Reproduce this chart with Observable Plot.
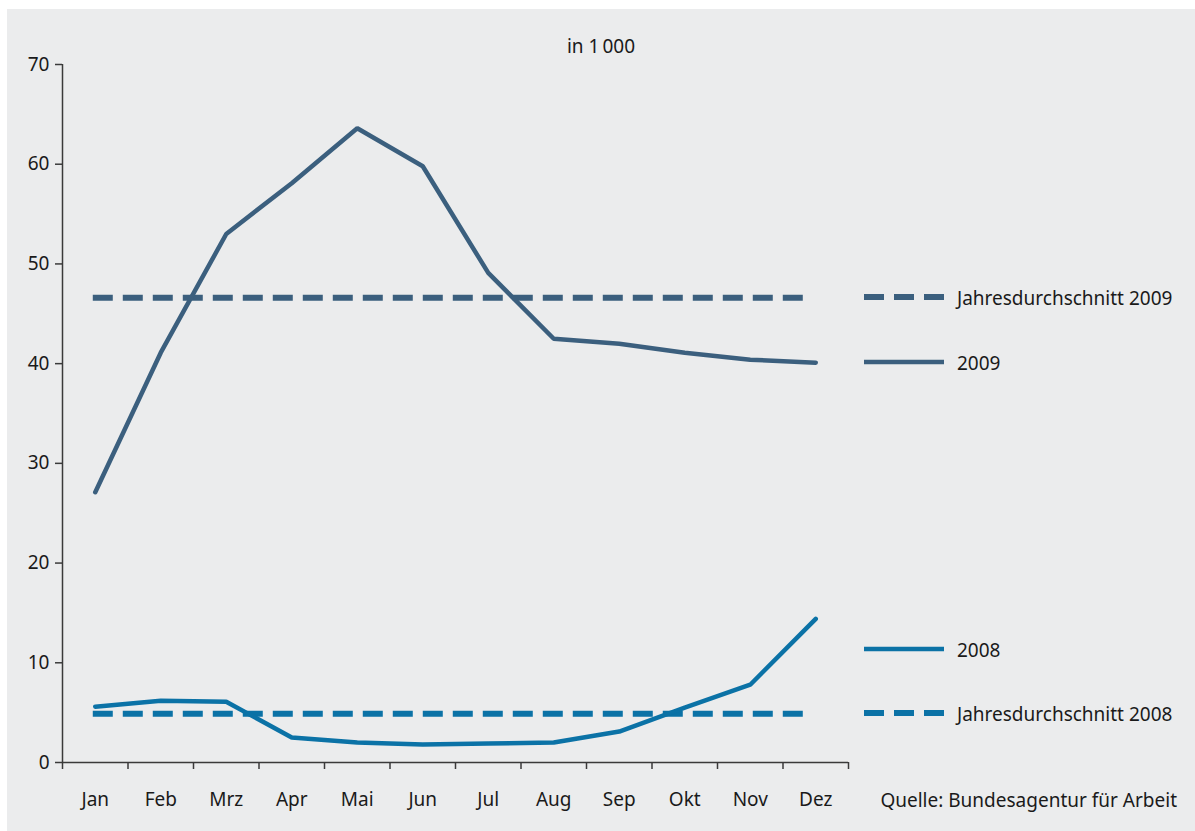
<!DOCTYPE html>
<html>
<head>
<meta charset="utf-8">
<script src="https://cdn.jsdelivr.net/npm/d3@7"></script>
<script src="https://cdn.jsdelivr.net/npm/@observablehq/plot@0.6"></script>
<style>
  html, body { margin: 0; padding: 0; background: #ffffff; }
  body { width: 1195px; height: 831px; position: relative; overflow: hidden; font-family: "Noto Sans", sans-serif; color: #1a1a1a; }
  #panel { position: absolute; left: 7px; top: 9px; width: 1188px; height: 822px; background: #ebeced; }
  #chart { position: absolute; left: 0; top: 0; }
  .txt { position: absolute; font-size: 19px; line-height: 1; white-space: nowrap; }
  .sw { position: absolute; width: 80px; height: 8px; }
</style>
</head>
<body>
<div id="panel">
  <div id="chart"></div>
</div>
<script>
// ---- data ----
const months = ["Jan", "Feb", "Mrz", "Apr", "Mai", "Jun", "Jul", "Aug", "Sep", "Okt", "Nov", "Dez"];
const values2009 = [27.1, 41.1, 53.0, 58.1, 63.6, 59.8, 49.1, 42.5, 42.0, 41.1, 40.4, 40.1];
const values2008 = [5.6, 6.2, 6.1, 2.5, 2.0, 1.8, 1.9, 2.0, 3.1, 5.5, 7.8, 14.4];
const avg2009 = 46.6;
const avg2008 = 4.9;
const yTicks = [0, 10, 20, 30, 40, 50, 60, 70];
const title = "in 1\u2009000";
const source = "Quelle: Bundesagentur für Arbeit";
const legendItems = [
  {label: "Jahresdurchschnitt 2009", key: "avg2009"},
  {label: "2009", key: "s2009"},
  {label: "2008", key: "s2008"},
  {label: "Jahresdurchschnitt 2008", key: "avg2008"}
];

const color2009 = "#3b5f7e";
const color2008 = "#0b72a6";
const axisColor = "#3a3a3a";

const rows2009 = months.map((m, i) => ({i: i + 0.5, v: values2009[i]}));
const rows2008 = months.map((m, i) => ({i: i + 0.5, v: values2008[i]}));
const boundaries = d3.range(months.length + 1);
const centers = months.map((m, i) => i + 0.5);

const W = 1188, H = 822;
const chart = Plot.plot({
  width: W,
  height: H,
  marginLeft: 55,
  marginRight: 347,
  marginTop: 55,
  marginBottom: 69,
  style: {background: "transparent", fontFamily: "Noto Sans, sans-serif", fontSize: "19px", color: "#1a1a1a"},
  x: {domain: [0, months.length], axis: null},
  y: {domain: [0, 70], axis: null},
  marks: [
    Plot.ruleY([avg2009], {x1: centers[0] - 0.03, x2: centers[centers.length - 1] - 0.05, stroke: color2009, strokeWidth: 6, strokeDasharray: "20,10"}),
    Plot.ruleY([avg2008], {x1: centers[0] - 0.03, x2: centers[centers.length - 1] - 0.05, stroke: color2008, strokeWidth: 6, strokeDasharray: "20,10"}),
    Plot.line(rows2009, {x: "i", y: "v", stroke: color2009, strokeWidth: 4.5, strokeLinejoin: "miter"}),
    Plot.line(rows2008, {x: "i", y: "v", stroke: color2008, strokeWidth: 4.5, strokeLinejoin: "miter"}),
    Plot.axisY({ticks: yTicks, tickSize: 7, tickPadding: 6, stroke: axisColor, strokeWidth: 1.5, fill: "#1a1a1a", fontSize: 19, label: null}),
    Plot.axisX({ticks: boundaries, tickSize: 7, tickFormat: () => "", stroke: axisColor, strokeWidth: 1.5, label: null}),
    Plot.axisX({ticks: centers, tickSize: 0, tickPadding: 30, tickFormat: d => months[Math.round(d - 0.5)], fill: "#1a1a1a", fontSize: 19, label: null}),
    Plot.ruleX([0], {stroke: axisColor, strokeWidth: 1.5}),
    Plot.ruleY([0], {stroke: axisColor, strokeWidth: 1.5})
  ]
});
document.getElementById("chart").appendChild(chart);

// ---- title, legend, source (HTML overlays) ----
const panel = document.getElementById("panel");
const FS = 19;
function addText(str, left, centerY, align) {
  const d = document.createElement("div");
  d.className = "txt";
  d.textContent = str;
  d.style.top = (centerY - FS / 2) + "px";
  if (align === "center") { d.style.left = left + "px"; d.style.transform = "translateX(-50%)"; }
  else if (align === "right") { d.style.right = left + "px"; }
  else { d.style.left = left + "px"; }
  panel.appendChild(d);
  return d;
}
addText(title, 594, 37, "center");

// vertical centres (panel coordinates) of the legend rows
const legendCenter = {avg2009: 288, s2009: 353, s2008: 640, avg2008: 704};
const legendStyle = {
  avg2009: {color: color2009, dash: true},
  s2009: {color: color2009, dash: false},
  s2008: {color: color2008, dash: false},
  avg2008: {color: color2008, dash: true}
};
legendItems.forEach(item => {
  const c = legendCenter[item.key];
  const st = legendStyle[item.key];
  const ns = "http://www.w3.org/2000/svg";
  const svg = document.createElementNS(ns, "svg");
  svg.setAttribute("class", "sw");
  svg.setAttribute("width", 80);
  svg.setAttribute("height", 8);
  svg.style.left = "857px";
  svg.style.top = (c - 4) + "px";
  const ln = document.createElementNS(ns, "line");
  ln.setAttribute("x1", 0); ln.setAttribute("x2", 80);
  ln.setAttribute("y1", 4); ln.setAttribute("y2", 4);
  ln.setAttribute("stroke", st.color);
  ln.setAttribute("stroke-width", st.dash ? 6 : 4.5);
  if (st.dash) ln.setAttribute("stroke-dasharray", "20,10");
  svg.appendChild(ln);
  panel.appendChild(svg);
  addText(item.label, 950, c + 1, "left");
});
addText(source, 18, 791, "right");
</script>
</body>
</html>
